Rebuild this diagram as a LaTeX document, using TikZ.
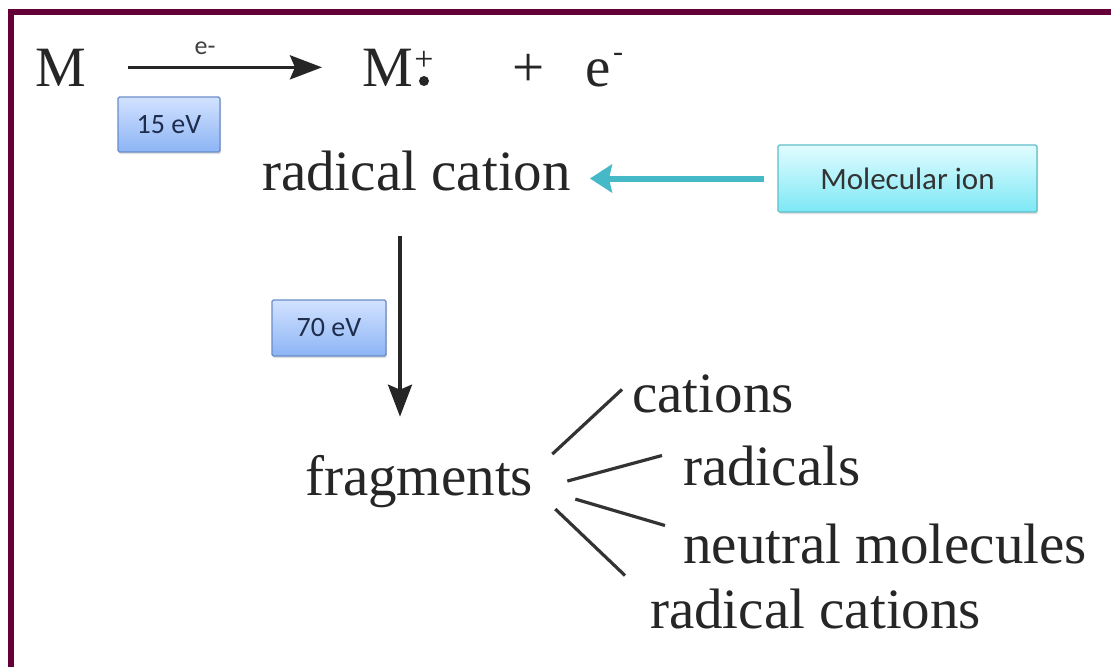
\documentclass[tikz,border=0pt]{standalone}
\usepackage{fontspec}
\setmainfont{Liberation Serif}
\newfontfamily\tagfont{Carlito}
\usetikzlibrary{arrows.meta,positioning,shadows}
\definecolor{framered}{RGB}{100,0,55}
\definecolor{tagline}{RGB}{105,140,200}
\definecolor{tagtop}{RGB}{210,226,255}
\definecolor{tagbot}{RGB}{140,180,245}
\definecolor{tagtext}{RGB}{30,45,75}
\definecolor{ionline}{RGB}{95,190,200}
\definecolor{iontop}{RGB}{225,252,255}
\definecolor{ionbot}{RGB}{125,232,245}
\definecolor{ionarrow}{RGB}{70,185,200}

\begin{document}
\begin{tikzpicture}[
  x=1pt,y=-1pt,
  word/.style={font=\fontsize{57}{60}\selectfont,inner sep=0pt,anchor=base west,text=black!85},
  tag/.style={draw=tagline,line width=1.2pt,top color=tagtop,bottom color=tagbot,rounded corners=1.5pt,
    font=\tagfont\fontsize{28}{30}\selectfont,text=tagtext,inner sep=0pt,
    drop shadow={opacity=0.25,shadow xshift=1pt,shadow yshift=-2pt}},
  arr/.style={-{Stealth[length=32pt,width=24pt,inset=5pt]},line width=3.4pt,black!85},
  fan/.style={line width=3.2pt,black!80}
]
\useasboundingbox (0,0) rectangle (1111,667);
\fill[white] (0,0) rectangle (1111,667);
% frame
\fill[framered] (8,9) rectangle (1111,15);
\fill[framered] (8,9) rectangle (14,667);

% ionisation
\node[word] (mol) at (35,86) {M};
\node[word] (ionM) at (362,86) {M};
\node[circle,fill=black!85,inner sep=0pt,minimum size=10pt] (dot) at (424,81) {};
\node[font=\fontsize{34}{34}\selectfont,inner sep=0pt,text=black!85] (chg) at (424,61) {+};
\node[word] (plus) at (512,86) {+};
\node[word] (elec) at (585,86) {e};
\node[font=\fontsize{30}{30}\selectfont,inner sep=0pt,text=black!85] (eminus) at (618,57) {-};
\node[font=\tagfont\fontsize{26}{26}\selectfont,inner sep=0pt,text=black!75] (elbl) at (205,48) {e-};
\draw[arr,shorten <=42pt,shorten >=40pt] (mol.east) -- (mol.east -| ionM.west);
\node[tag,minimum width=102pt,minimum height=55pt] (tag15) at (169,124.5) {15 eV};

% molecular ion
\node[word] (cation) at (262,190) {radical cation};
\node[tag,draw=ionline,top color=iontop,bottom color=ionbot,text=black!80,
  font=\tagfont\fontsize{31}{33}\selectfont,
  minimum width=259pt,minimum height=67pt] (molion) at (907.5,178.5) {Molecular ion};
\draw[-{Stealth[length=22pt,width=28pt,inset=3pt]},line width=6pt,ionarrow,
  shorten <=13pt,shorten >=19pt] (molion.west) -- (molion.west -| cation.east);

% fragmentation
\node[word] (frag) at (305,495) {fragments};
\coordinate (drop) at (400,236);
\draw[arr,shorten >=38pt] (drop) -- (drop |- frag.north);
\node[tag,minimum width=114pt,minimum height=56pt] (tag70) at (329,328) {70 eV};

\node[word] (cat) at (632,412) {cations};
\node[word] (rad) at (683,485) {radicals};
\node[word] (neu) at (683,563) {neutral molecules};
\node[word] (radcat) at (650,628) {radical cations};
\draw[fan] ([shift={(19,-27)}]frag.east) -- ([shift={(-10,-4)}]cat.west);
\draw[fan] ([shift={(34,0)}]frag.east) -- ([shift={(-21,-10)}]rad.west);
\draw[fan] ([shift={(42,18)}]frag.east) -- ([shift={(-18,-18)}]neu.west);
\draw[fan] ([shift={(22,28)}]frag.east) -- ([shift={(-25,-33)}]radcat.west);
\end{tikzpicture}
\end{document}
